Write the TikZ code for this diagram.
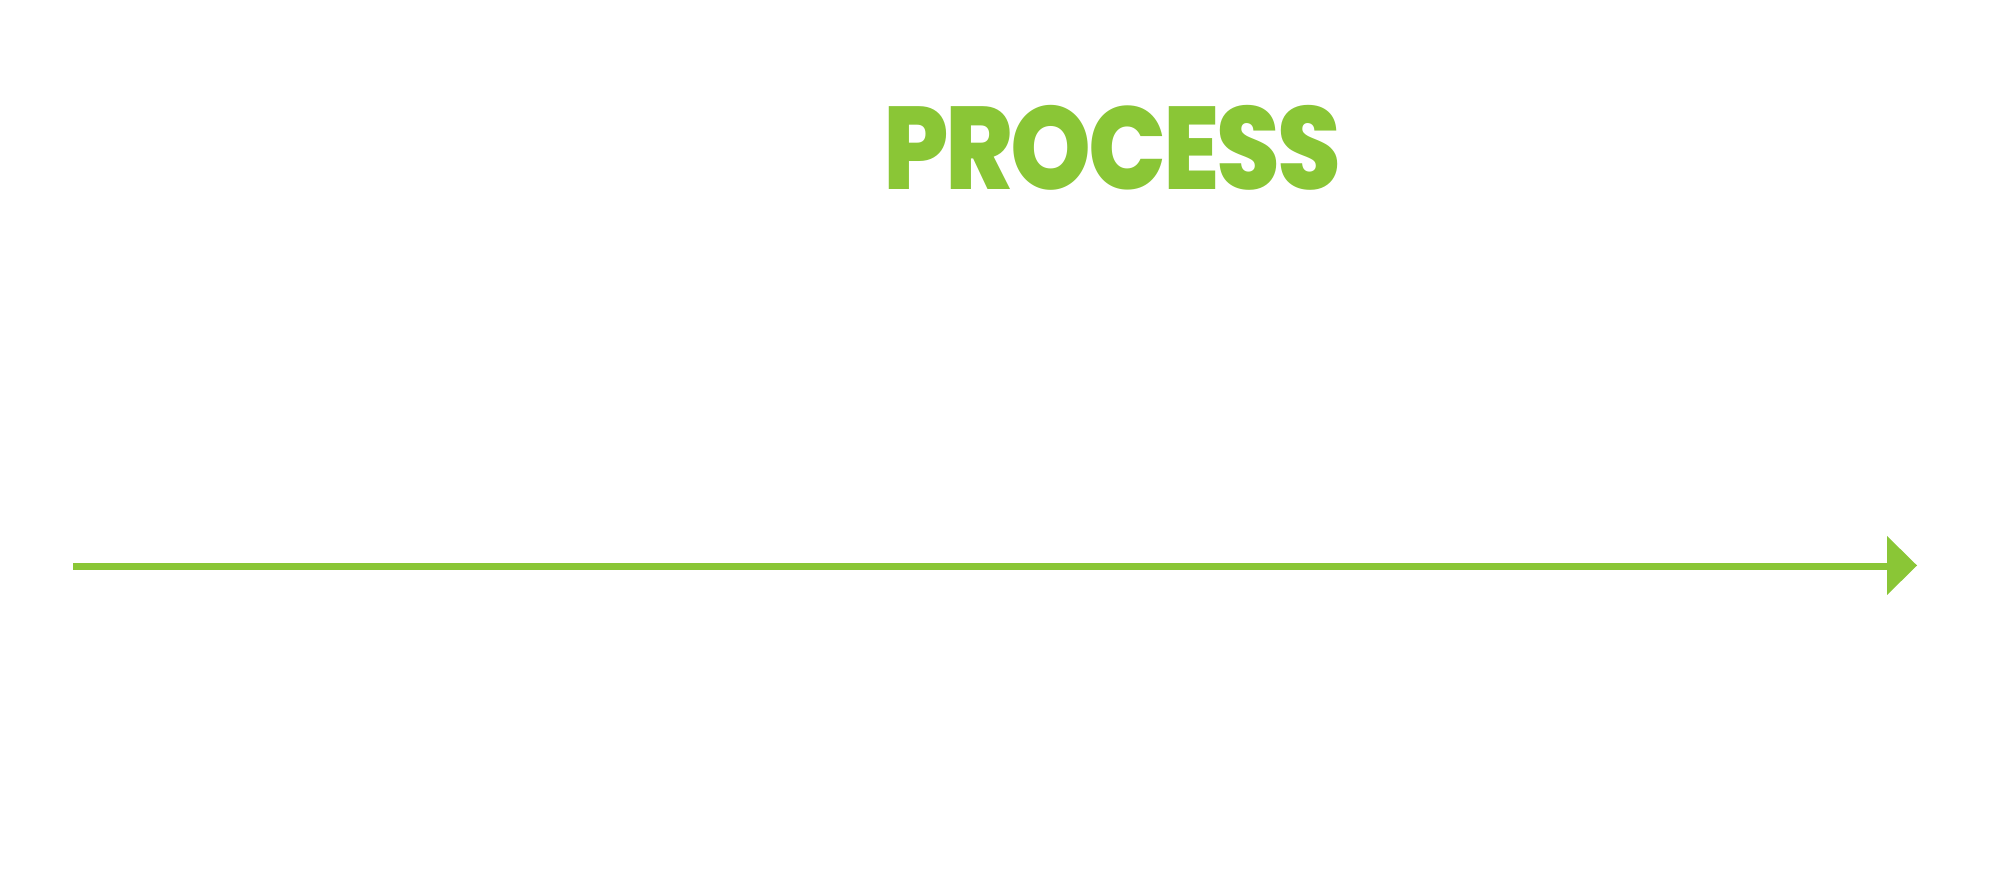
\documentclass[tikz,border=0pt]{standalone}
\usepackage{graphicx}
\usepackage{fontspec}
\newfontfamily\titlefont{Poppins ExtraBold}[LetterSpace=-3]
\definecolor{procgreen}{RGB}{138,198,54}
\begin{document}
\begin{tikzpicture}[
  titlestyle/.style={text=procgreen, inner sep=0pt, anchor=base},
  axisline/.style={draw=procgreen, line width=0.07cm}]
\useasboundingbox (0,0) rectangle (20,8.75);
\node[titlestyle] (title) at (11.12,6.85) {\resizebox*{4.58cm}{0.85cm}{\titlefont PROCESS}};
\coordinate (start) at (0.73,3.085);
\coordinate (base) at (18.88,3.085);
\draw[axisline] (start) -- (base);
\fill[procgreen] (18.87,3.39) -- (19.17,3.095) -- (18.87,2.80) -- cycle;
\end{tikzpicture}
\end{document}
